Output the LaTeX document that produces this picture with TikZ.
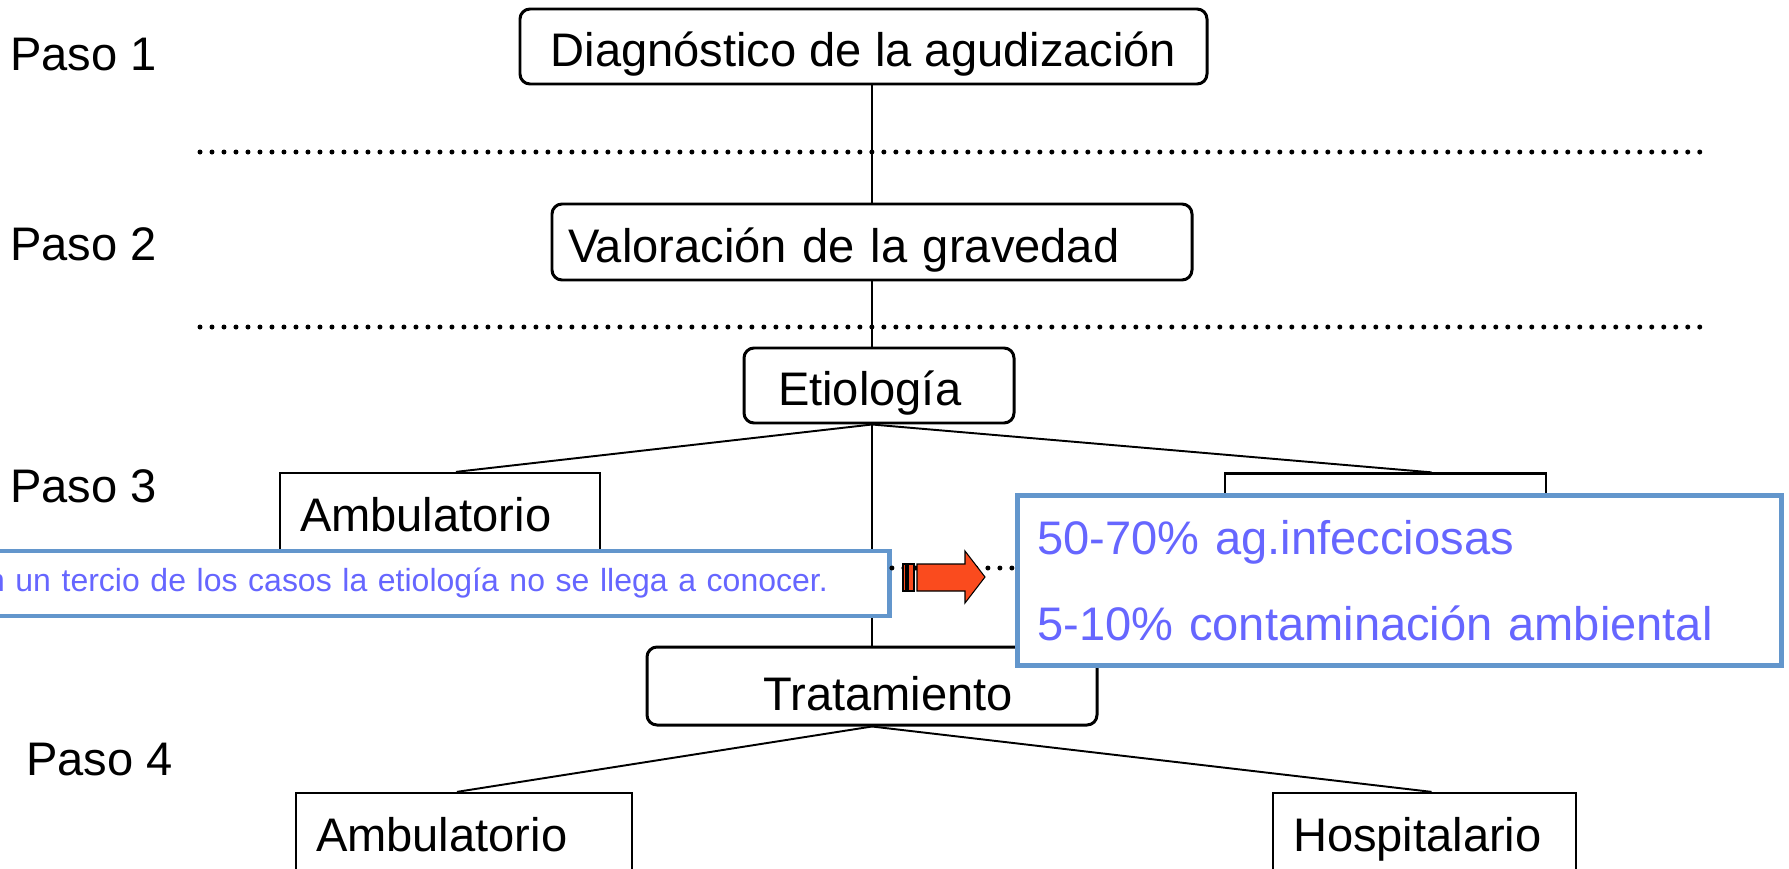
\documentclass[tikz,border=0pt]{standalone}
\usepackage{fontspec}
\setmainfont{Liberation Sans}

\definecolor{noteblue}{RGB}{99,150,204}
\definecolor{notetext}{RGB}{102,102,255}
\definecolor{arrowred}{RGB}{250,75,30}

\begin{document}
\begin{tikzpicture}[x=0.02cm, y=-0.02cm, % one unit is one pixel, y runs down
    every node/.style={font=\fontsize{26.8}{32}\selectfont},
    roundbox/.style={draw, line width=1.7pt, rounded corners=0.2cm, fill=white, inner ysep=0pt,
        text height=1cm, text depth=0.2cm},
    plainbox/.style={draw, line width=1.3pt, fill=white, inner ysep=0pt, align=left,
        text height=0.82cm, text depth=0.22cm},
    notebox/.style={draw=noteblue, line width=2.8pt, fill=white, text=notetext, align=left, inner ysep=0pt},
    link/.style={line width=1.1pt},
    dotline/.style={line width=0.1cm, line cap=round, dash pattern=on 0pt off 0.24cm},
    pasolabel/.style={anchor=base west, inner sep=0pt}]

    % Dimensions
    \def\px{0.02cm}          % length of one pixel
    \def\boxH{87}            % height of the square boxes
    \def\pad{20}             % left padding of the square boxes

    \useasboundingbox (0,0) rectangle (1789,869);

    % Step labels on the left
    \node[pasolabel] (paso1) at (10,70) {Paso 1};
    \node[pasolabel] (paso2) at (10,260) {Paso 2};
    \node[pasolabel] (paso3) at (10,502) {Paso 3};
    \node[pasolabel] (paso4) at (26,775) {Paso 4};

    % Dotted separators between the steps
    \draw[dotline] (200,152) -- (1702,152);
    \draw[dotline] (200,327) -- (1702,327);

    % Main chain of rounded boxes
    \node[roundbox, minimum width=687*\px, minimum height=75*\px] (diag) at (863.5,46.5) {Diagnóstico de la agudización};
    \node[roundbox, align=left, inner xsep=16*\px, text width=608*\px, minimum height=76*\px] (val) at (872,242) {Valoración de la gravedad};
    \node[roundbox, align=left, inner xsep=34*\px, text width=202*\px, minimum height=75*\px] (etio) at (879,385.5) {Etiología};
    \node[roundbox, align=right, inner xsep=84*\px, text width=282*\px, minimum height=78*\px, text height=1.16cm] (trat) at (872,686) {Tratamiento};

    % Square boxes of steps 3 and 4
    \node[plainbox, inner xsep=\pad*\px, text width=280*\px, minimum height=\boxH*\px] (amb1) at (440,516.5) {Ambulatorio};
    \node[plainbox, inner xsep=\pad*\px, text width=281*\px, minimum height=\boxH*\px] (hosp1) at (1385.5,517) {};
    \node[plainbox, inner xsep=\pad*\px, text width=296*\px, minimum height=\boxH*\px] (amb2) at (464,836.5) {Ambulatorio};
    \node[plainbox, inner xsep=\pad*\px, text width=263*\px, minimum height=\boxH*\px] (hosp2) at (1424.5,836.5) {Hospitalario};

    % Connectors
    \draw[link] (diag.south -| val) -- (val);
    \draw[link] (val) -- (etio.north -| val);
    \draw[link] (etio.south -| trat) -- (trat);
    \draw[link] (etio.south -| trat) -- ([xshift=16*\px]amb1.north);
    \draw[link] (etio.south -| trat) -- ([xshift=46*\px]hosp1.north);
    \draw[link] (trat.south) -- ([xshift=-7*\px]amb2.north);
    \draw[link] (trat.south) -- ([xshift=7*\px]hosp2.north);

    % Blue notes laid over the chart
    \node[notebox, anchor=west, font=\fontsize{18.2}{22}\selectfont, minimum height=65*\px, text width=841*\px, inner xsep=33*\px] (note) at (-20,583.5)
        {\leavevmode\llap{En }un tercio de los casos la etiología no se llega a conocer.};
    \node[notebox, anchor=north west, font=\fontsize{26.8}{48.9}\selectfont, minimum height=170*\px, text width=724*\px, inner xsep=20*\px] (stats) at (1015,493)
        {50-70\% ag.infecciosas\\5-10\% contaminación ambiental};

    % Dotted link between the notes with the striped arrow on it
    \coordinate (dotrow) at (0,568);
    \draw[dotline] (note.east |- dotrow) -- (stats.west |- dotrow);
    \draw[fill=arrowred, line width=0.6pt] (903,564) rectangle (906,591);
    \draw[fill=arrowred, line width=0.6pt] (908,564) rectangle (914,591);
    \draw[fill=arrowred, line width=0.6pt] (917,564) -- (965,564) -- (965,551) -- (985,577) -- (965,603) -- (965,591) -- (917,591) -- cycle;

\end{tikzpicture}
\end{document}
